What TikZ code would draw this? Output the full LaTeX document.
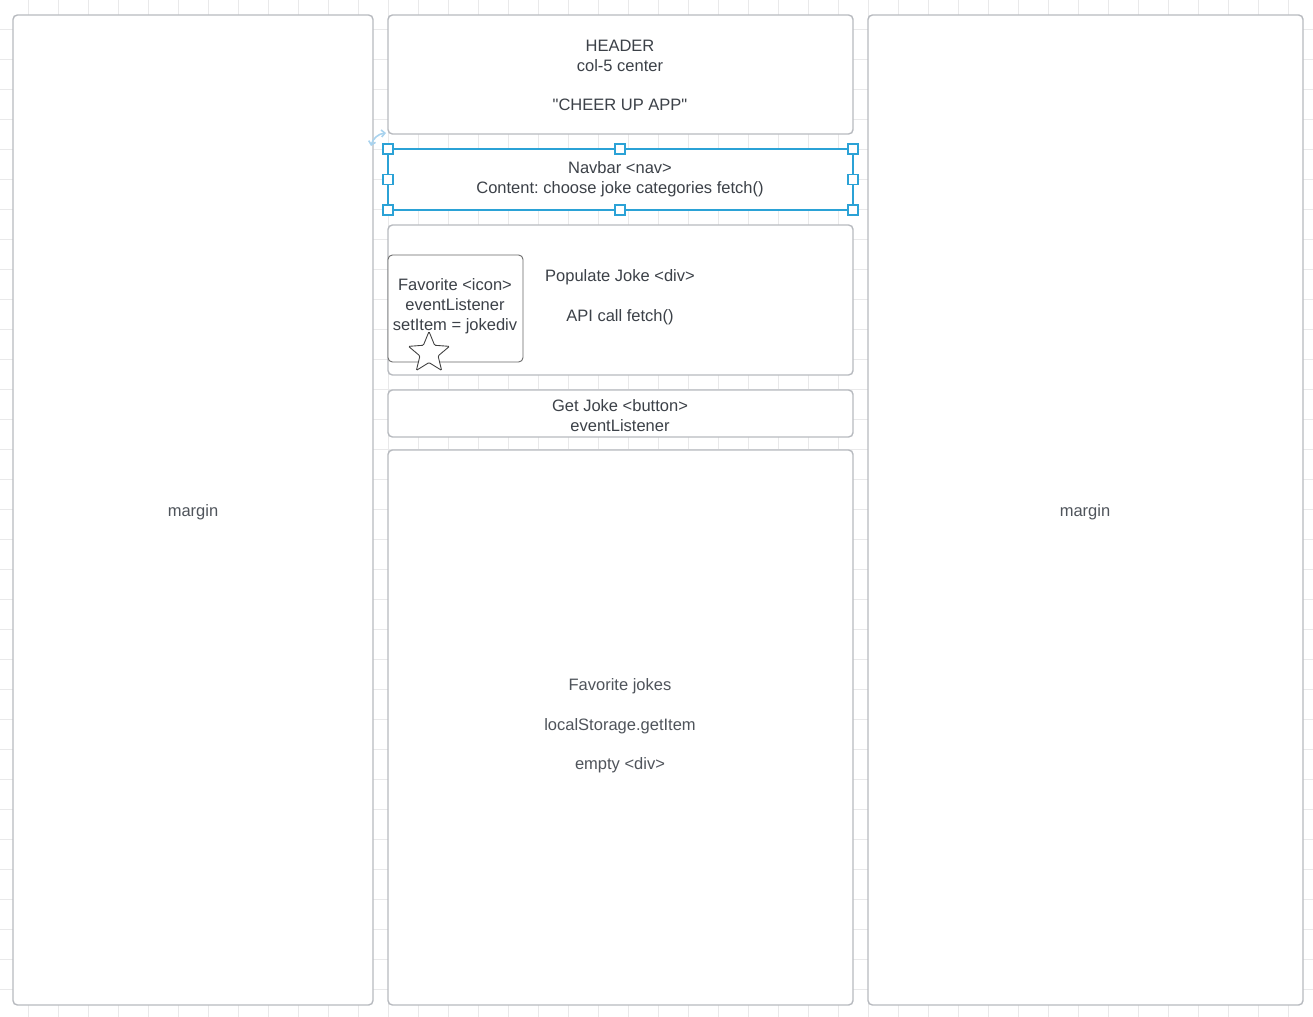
\documentclass[tikz,border=0pt]{standalone}
\usepackage{fontspec}
\setmainfont{Liberation Sans}[Ligatures=TeXOff]
\usetikzlibrary{shapes.geometric,arrows.meta}
\frenchspacing

\definecolor{gridgray}{HTML}{E9E9EA}
\definecolor{boxgray}{HTML}{B7BABF}
\definecolor{inkgray}{HTML}{3C4148}
\definecolor{softgray}{HTML}{4F545B}
\definecolor{selblue}{HTML}{2BA2D6}
\definecolor{rotblue}{HTML}{A9D3EE}

\tikzset{
  box/.style={draw=boxgray, line width=0.8pt, fill=white, rounded corners=2.5pt},
  iconbox/.style={draw=black!60, line width=0.5pt, fill=white, rounded corners=2.5pt},
  txt/.style={align=center, text=inkgray, inner sep=0pt,
    font=\fontsize{9.4pt}{11.3pt}\selectfont},
  softtxt/.style={txt, text=softgray},
  handle/.style={draw=selblue, line width=0.6pt, fill=white},
}

\begin{document}
\begin{tikzpicture}[x=0.02cm, y=-0.02cm]
\useasboundingbox (0,0) rectangle (1313,1017);

% background grid, 30px pitch
\foreach \gx in {28,58,...,1313}
  \draw[gridgray, line width=0.5pt] (\gx,0) -- (\gx,1017);
\foreach \gy in {29,59,...,1017}
  \draw[gridgray, line width=0.5pt] (0,\gy) -- (1313,\gy);

% side margins
\draw[box] (13,15) rectangle (373,1005);
\node[softtxt] (leftmargin) at (193,512) {margin};
\draw[box] (868,15) rectangle (1303,1005);
\node[softtxt] (rightmargin) at (1085,512) {margin};

% header
\draw[box] (388,15) rectangle (853,134);
\node[txt] (header) at (620,75.5) {HEADER\\col-5 center\\[11.3pt]"CHEER UP APP"};

% navbar (selected)
\draw[selblue, line width=0.8pt, fill=white] (388,149) rectangle (853,210);
\node[txt] (navbar) at (620,179.5) {Navbar <nav>\\Content: choose joke categories fetch()};
\foreach \hx/\hy in {388/149, 620/149, 853/149, 388/179.5, 853/179.5, 388/210, 620/210, 853/210}
  \draw[handle] (\hx-5,\hy-5) rectangle (\hx+5,\hy+5);
\draw[rotblue, line width=0.9pt, {Straight Barb[length=2pt]}-{Straight Barb[length=2pt]}]
  (371,146) to[bend left=35] (386,133);

% joke area
\draw[box] (388,225) rectangle (853,375);
\node[txt] (populate) at (620,297.5) {Populate Joke <div>\\[11.3pt]API call fetch()};
\draw[iconbox] (388,255) rectangle (523,362);
\node[txt] (favicon) at (455,306.5) {Favorite <icon>\\eventListener\\setItem = jokediv};
\node[star, star points=5, star point ratio=2.25, minimum size=0.86cm, inner sep=0pt,
  draw=black!75, line width=0.5pt, fill=white, rounded corners=0.6pt] (favstar) at (429,353) {};

% button
\draw[box] (388,390) rectangle (853,437);
\node[txt] (getjoke) at (620,415.5) {Get Joke <button>\\eventListener};

% favorites list
\draw[box] (388,450) rectangle (853,1005);
\node[softtxt] (favjokes) at (620,726) {Favorite jokes\\[11.3pt]localStorage.getItem\\[11.3pt]empty <div>};
\end{tikzpicture}
\end{document}
